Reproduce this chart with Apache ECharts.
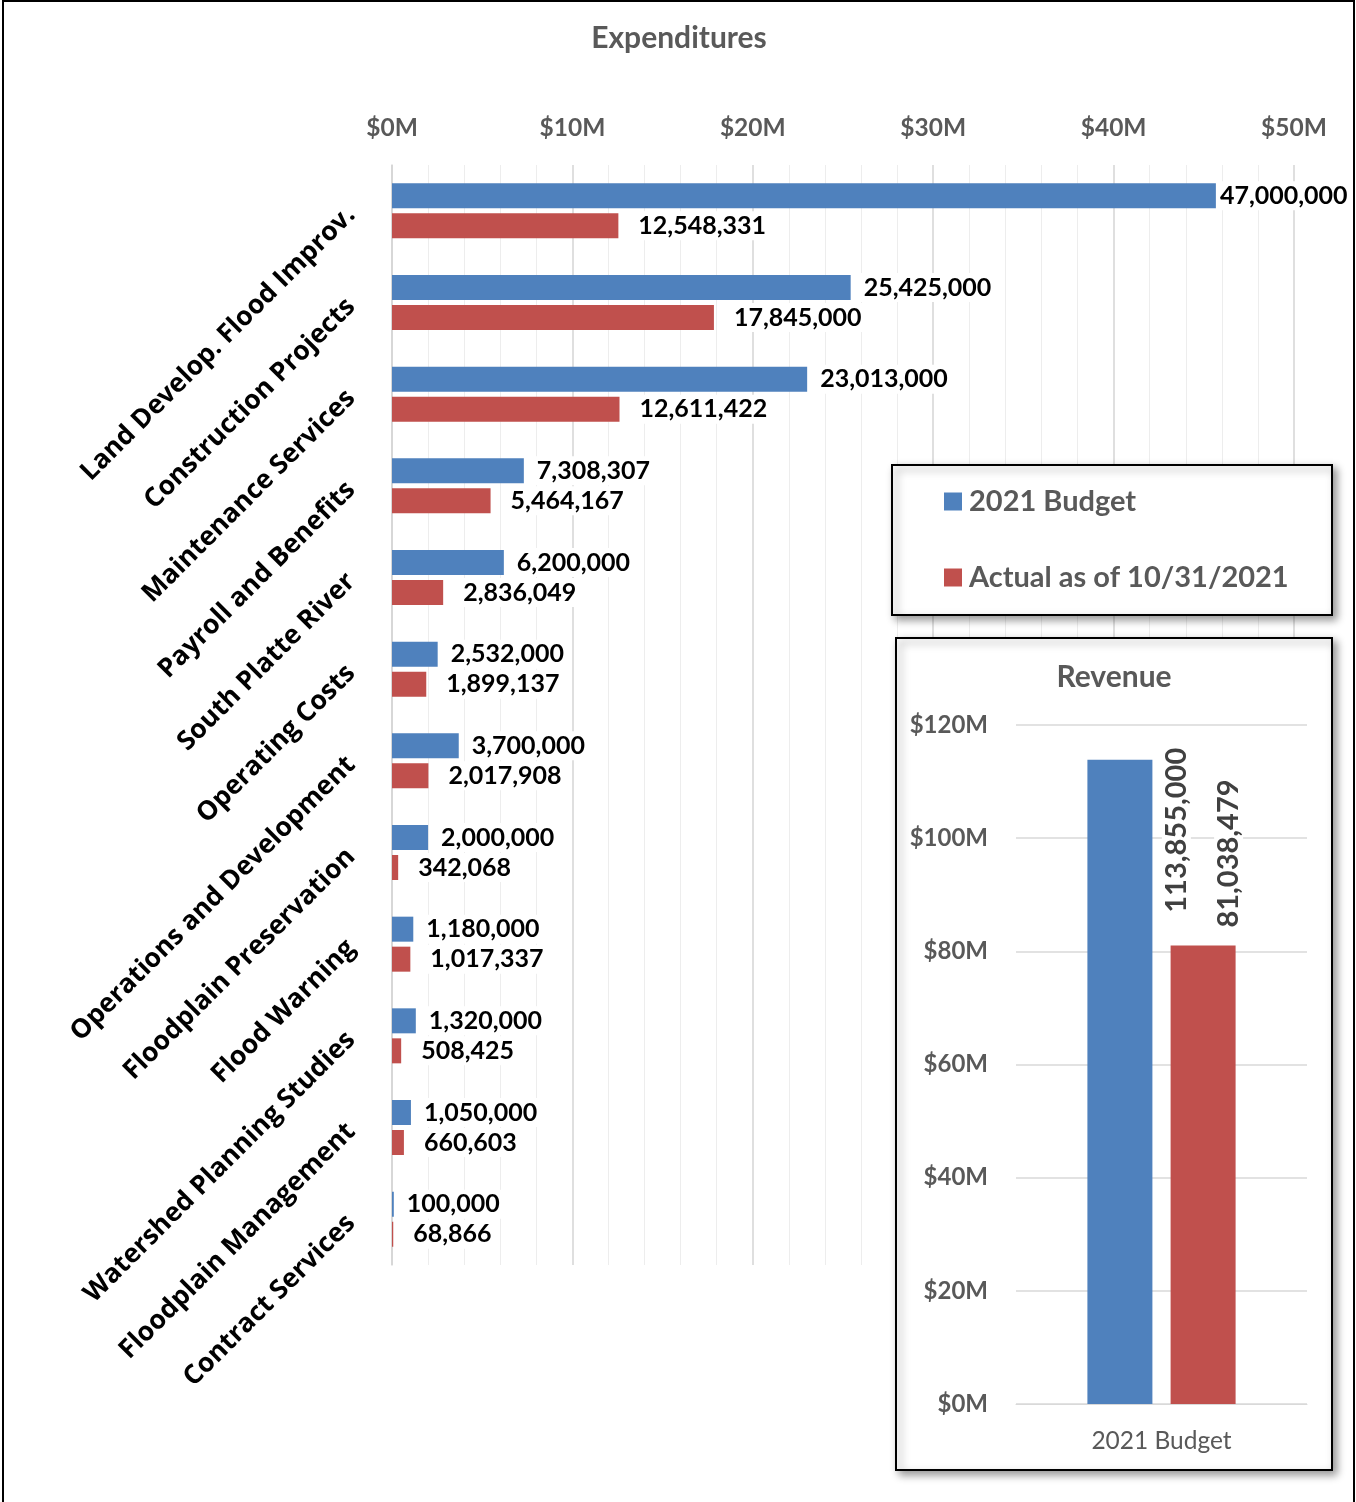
<!DOCTYPE html>
<html><head><meta charset="utf-8">
<script src="https://cdn.jsdelivr.net/npm/echarts@6/dist/echarts.min.js"></script>
<style>html,body{margin:0;padding:0;background:#fff}#c{width:1356px;height:1502px}</style>
</head><body><div id="c"></div>
<script>
const categories = ['Land Develop. Flood Improv.', 'Construction Projects', 'Maintenance Services', 'Payroll and Benefits', 'South Platte River', 'Operating Costs', 'Operations and Development', 'Floodplain Preservation', 'Flood Warning', 'Watershed Planning Studies', 'Floodplain Management', 'Contract Services'];
const budget2021 = [47000000, 25425000, 23013000, 7308307, 6200000, 2532000, 3700000, 2000000, 1180000, 1320000, 1050000, 100000];
const actual2021 = [12548331, 17845000, 12611422, 5464167, 2836049, 1899137, 2017908, 342068, 1017337, 508425, 660603, 68866];
const revenueCategories = ['2021 Budget'];
const revenueBudget = [113855000];
const revenueActual = [81038479];
const seriesNames = ['2021 Budget', 'Actual as of 10/31/2021'];

const BLUE = '#4F81BD', RED = '#C0504D', GRAY = '#595959';
function fmt(v) { return String(Math.round(v)).replace(/\B(?=(\d{3})+(?!\d))/g, ','); }
function money(v) { return '$' + Math.round(v / 1e6) + 'M'; }

const chart = echarts.init(document.getElementById('c'), null, { renderer: 'canvas' });
const expMax = 50000000;
const numLabel = { fontFamily: 'Lato', fontWeight: 'bold', fontSize: 25, color: '#000', backgroundColor: '#fff', padding: [2, 4] };

const option = {
  backgroundColor: '#fff',
  animation: false,
  title: [
    { text: 'Expenditures', left: 679, top: 38, padding: 0, textAlign: 'center', textVerticalAlign: 'middle',
      textStyle: { fontFamily: 'Lato', fontWeight: 'bold', fontSize: 30, color: GRAY } },
    { text: 'Revenue', left: 1114, top: 677, padding: 0, textAlign: 'center', textVerticalAlign: 'middle',
      textStyle: { fontFamily: 'Lato', fontWeight: 'bold', fontSize: 30, color: GRAY } }
  ],
  legend: {
    data: seriesNames, orient: 'vertical', left: 944, top: 487, padding: 0,
    itemWidth: 18, itemHeight: 18, itemGap: 47, icon: 'rect', selectedMode: false,
    textStyle: { fontFamily: 'Lato', fontWeight: 'bold', fontSize: 29, color: GRAY, padding: [0, 0, 0, 2] }
  },
  graphic: {
    elements: [
      { type: 'rect', z: 1, shape: { x: 3, y: 1, width: 1351, height: 1530 },
        style: { fill: 'none', stroke: '#000', lineWidth: 2 } },
      { type: 'rect', z: 1, shape: { x: 892, y: 465, width: 440, height: 150 },
        style: { fill: '#fff', stroke: '#000', lineWidth: 2, shadowBlur: 8, shadowOffsetX: 4, shadowOffsetY: 4, shadowColor: 'rgba(0,0,0,0.4)' } },
      { type: 'rect', z: 1, shape: { x: 896, y: 638, width: 436, height: 832 },
        style: { fill: '#fff', stroke: '#000', lineWidth: 2, shadowBlur: 8, shadowOffsetX: 4, shadowOffsetY: 4, shadowColor: 'rgba(0,0,0,0.4)' } }
    ]
  },
  grid: [
    { left: 392, top: 165, width: 902, height: 1100 },
    { left: 1016, top: 725, width: 291, height: 679 }
  ],
  xAxis: [
    { type: 'value', gridIndex: 0, position: 'top', min: 0, max: expMax, interval: 10000000,
      axisLine: { show: false }, axisTick: { show: false },
      axisLabel: { formatter: money, fontFamily: 'Lato', fontWeight: 'bold', fontSize: 24.5, color: GRAY, margin: 24 },
      splitLine: { lineStyle: { color: '#d4d4d4', width: 1.5 } },
      minorTick: { show: false, splitNumber: 5 },
      minorSplitLine: { show: true, lineStyle: { color: '#ededed', width: 1 } } },
    { type: 'category', gridIndex: 1, data: revenueCategories, z: 3,
      axisLine: { show: true, lineStyle: { color: '#d9d9d9' } }, axisTick: { show: false },
      axisLabel: { fontFamily: 'Lato', fontSize: 24.5, color: GRAY, margin: 25 } }
  ],
  yAxis: [
    { type: 'category', gridIndex: 0, data: categories, inverse: true,
      axisLine: { show: true, lineStyle: { color: '#d4d4d4', width: 1.5 } }, axisTick: { show: false },
      axisLabel: { interval: 0, rotate: 45, margin: 41, fontFamily: 'Open Sans', fontWeight: 'bold', fontSize: 26.5, color: '#000' } },
    { type: 'value', gridIndex: 1, min: 0, max: 120000000, interval: 20000000, z: 3,
      axisLine: { show: false }, axisTick: { show: false },
      axisLabel: { formatter: money, fontFamily: 'Lato', fontWeight: 'bold', fontSize: 24, color: GRAY, margin: 28 },
      splitLine: { lineStyle: { color: '#d9d9d9', width: 1.5 } } }
  ],
  series: [
    { name: seriesNames[0], type: 'bar', xAxisIndex: 0, yAxisIndex: 0, barWidth: 25, barGap: '20%',
      itemStyle: { color: BLUE },
      data: budget2021.map(v => v > expMax * 0.9 ? { value: v, label: { offset: [-33, 0] } } : v),
      label: Object.assign({ show: true, position: 'right', distance: 9, formatter: p => fmt(p.value) }, numLabel) },
    { name: seriesNames[1], type: 'bar', xAxisIndex: 0, yAxisIndex: 0, barWidth: 25, barGap: '20%',
      itemStyle: { color: RED }, data: actual2021,
      label: Object.assign({ show: true, position: 'right', distance: 16, formatter: p => fmt(p.value) }, numLabel) },
    { name: seriesNames[0], type: 'bar', xAxisIndex: 1, yAxisIndex: 1, barWidth: 65, barGap: '28%', z: 3,
      itemStyle: { color: BLUE }, data: revenueBudget,
      label: { show: true, position: [89, -14], rotate: 90, align: 'right', verticalAlign: 'middle',
        formatter: p => fmt(p.value), fontFamily: 'Lato', fontWeight: 'bold', fontSize: 29, color: '#404040',
        backgroundColor: '#fff', padding: [0, 2] } },
    { name: seriesNames[1], type: 'bar', xAxisIndex: 1, yAxisIndex: 1, barWidth: 65, barGap: '28%', z: 3,
      itemStyle: { color: RED }, data: revenueActual,
      label: { show: true, position: [58, -168], rotate: 90, align: 'right', verticalAlign: 'middle',
        formatter: p => fmt(p.value), fontFamily: 'Lato', fontWeight: 'bold', fontSize: 29, color: '#404040',
        backgroundColor: '#fff', padding: [0, 2] } }
  ]
};
chart.setOption(option);
</script></body></html>
